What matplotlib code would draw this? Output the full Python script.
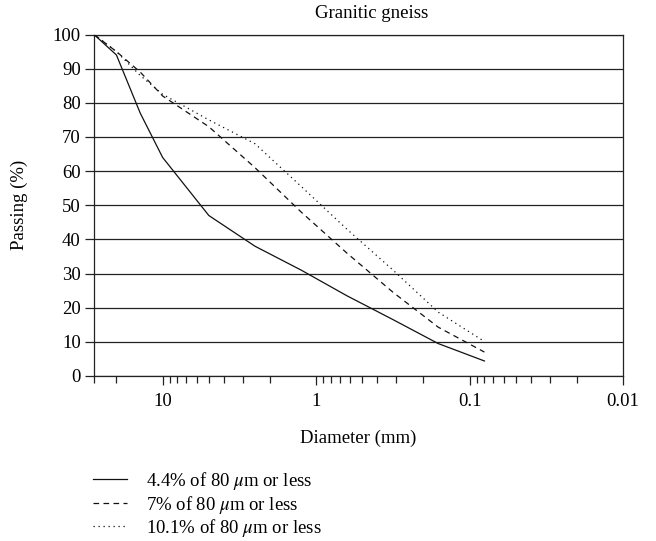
import matplotlib
matplotlib.use("Agg")
import matplotlib.pyplot as plt
from matplotlib.ticker import FixedLocator, FixedFormatter, NullFormatter

plt.rcParams["font.family"] = ["Liberation Serif", "DejaVu Serif"]
plt.rcParams["mathtext.fontset"] = "stix"

# Sieve sizes (mm) and cumulative passing (%)
sieve_mm = [28, 20, 14, 10, 5, 2.5, 1.25, 0.63, 0.315, 0.16, 0.08]
passing_44 = [100, 94, 77, 64, 47, 38, 31, 23.5, 16.5, 9.5, 4.4]
passing_70 = [100, 95, 89, 82, 73, 61, 48, 36, 24.5, 14.3, 7.0]
passing_101 = [100, 95, 88, 82.5, 75, 68, 55.5, 43, 31, 18.7, 10.1]

series_labels = [r"4.4% of 80 $\mu$m or less",
                 r"7% of 80 $\mu$m or less",
                 r"10.1% of 80 $\mu$m or less"]

x_major = [10, 1, 0.1, 0.01]
x_major_labels = ["10", "1", "0.1", "0.01"]
y_ticks = list(range(0, 101, 10))

W, H = 656, 541
fig = plt.figure(figsize=(W / 100, H / 100), dpi=100)
ax = fig.add_axes([94 / W, 1 - 376 / H, (623 - 94) / W, (376 - 34.5) / H])

ink = "#111111"
ax.plot(sieve_mm, passing_44, color=ink, lw=0.9, ls="-", label=series_labels[0], zorder=3)
ax.plot(sieve_mm, passing_70, color=ink, lw=0.9, ls=(0, (4.5, 3.5)), label=series_labels[1], zorder=3)
ax.plot(sieve_mm, passing_101, color=ink, lw=0.9, ls=(0, (1, 3)), label=series_labels[2], zorder=3)

ax.set_xscale("log")
ax.set_xlim(28, 0.01)
ax.set_ylim(0, 100)

ax.xaxis.set_major_locator(FixedLocator(x_major))
ax.xaxis.set_major_formatter(FixedFormatter(x_major_labels))
minor = [28, 20] + [m * 10.0 ** e for e in (0, -1, -2) for m in range(2, 10)]
ax.xaxis.set_minor_locator(FixedLocator(minor))
ax.xaxis.set_minor_formatter(NullFormatter())

ax.set_yticks(y_ticks)
ax.yaxis.grid(True, color="#222222", lw=0.9)
ax.set_axisbelow(True)

for s in ax.spines.values():
    s.set_linewidth(0.9)
    s.set_color("#222222")

fs = 13.5
ax.tick_params(axis="both", which="major", direction="out", length=6.5, width=0.9,
               color="#222222", labelsize=fs, pad=3)
ax.tick_params(axis="x", which="minor", direction="out", length=5, width=0.9, color="#222222")
ax.tick_params(axis="x", which="major", pad=6)

ax.set_xlabel("Diameter (mm)", fontsize=fs, labelpad=14)
ax.set_ylabel("Passing (%)", fontsize=fs, labelpad=18)
fig.text(372 / W, 1 - 13 / H, "Granitic gneiss", ha="center", va="center", fontsize=fs)

fig.legend(loc="upper left", bbox_to_anchor=(93 / W, 1 - 470 / H), frameon=False,
           fontsize=fs, handlelength=1.8, handletextpad=1.0, labelspacing=0.08,
           borderaxespad=0, borderpad=0)

fig.savefig("out.png", dpi=100)
